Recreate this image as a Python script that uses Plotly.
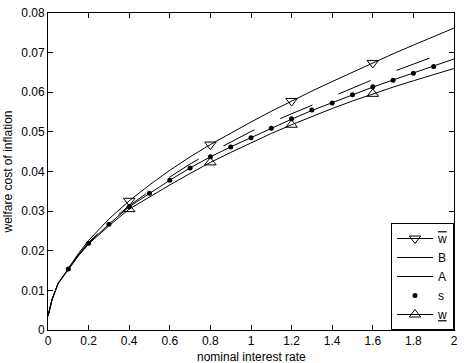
import plotly.graph_objects as go

# nominal interest rate grid for the curves
x_curve = [0, 0.02, 0.05, 0.1, 0.15, 0.2, 0.3, 0.4, 0.5, 0.6, 0.7, 0.8, 0.9, 1.0,
           1.1, 1.2, 1.3, 1.4, 1.5, 1.6, 1.7, 1.8, 1.9, 2.0]

w_upper = [0.0035, 0.0077, 0.0118, 0.0157, 0.0193, 0.0226, 0.0280, 0.0326, 0.0366,
           0.0403, 0.0437, 0.0468, 0.0497, 0.0525, 0.0552, 0.0578, 0.0603, 0.0627,
           0.0651, 0.0674, 0.0697, 0.0719, 0.0741, 0.0762]
B_vals = [0.0035, 0.0077, 0.0118, 0.0155, 0.0190, 0.0221, 0.0270, 0.0314, 0.0350,
          0.0386, 0.0419, 0.0448, 0.0474, 0.0501, 0.0524, 0.0546, 0.0568, 0.0590,
          0.0611, 0.0632, 0.0652, 0.0672, 0.0690, 0.0708]
A_vals = [0.0035, 0.0077, 0.0118, 0.0154, 0.0189, 0.0219, 0.0267, 0.0311, 0.0345,
          0.0378, 0.0409, 0.0437, 0.0462, 0.0486, 0.0509, 0.0532, 0.0554, 0.0574,
          0.0594, 0.0613, 0.0631, 0.0649, 0.0666, 0.0684]
w_lower = [0.0035, 0.0077, 0.0117, 0.0153, 0.0187, 0.0217, 0.0263, 0.0305, 0.0336,
           0.0366, 0.0395, 0.0423, 0.0448, 0.0473, 0.0496, 0.0518, 0.0539, 0.0559,
           0.0578, 0.0596, 0.0613, 0.0629, 0.0645, 0.0660]

# marker positions
x_tri = [0.4, 0.8, 1.2, 1.6]
w_upper_tri = [0.0326, 0.0468, 0.0578, 0.0674]
w_lower_tri = [0.0305, 0.0423, 0.0518, 0.0596]

x_s = [0.1, 0.2, 0.3, 0.4, 0.5, 0.6, 0.7, 0.8, 0.9, 1.0, 1.1, 1.2, 1.3, 1.4, 1.5,
       1.6, 1.7, 1.8, 1.9]
s_vals = [0.0154, 0.0219, 0.0267, 0.0311, 0.0345, 0.0378, 0.0409, 0.0437, 0.0462,
          0.0485, 0.0509, 0.0533, 0.0555, 0.0573, 0.0594, 0.0614, 0.0630, 0.0648,
          0.0665]

x_ticks = [0, 0.2, 0.4, 0.6, 0.8, 1, 1.2, 1.4, 1.6, 1.8, 2]
x_ticklabels = ["0", "0.2", "0.4", "0.6", "0.8", "1", "1.2", "1.4", "1.6", "1.8", "2"]
y_ticks = [0, 0.01, 0.02, 0.03, 0.04, 0.05, 0.06, 0.07, 0.08]
y_ticklabels = ["0", "0.01", "0.02", "0.03", "0.04", "0.05", "0.06", "0.07", "0.08"]

names = ['<span style="text-decoration:overline">w</span>', "B", "A", "s", "<u>w</u>"]
x_title = "nominal interest rate"
y_title = "welfare cost of inflation"

FONT = "Liberation Sans, Arial, sans-serif"
LW = 1
tri_marker_down = dict(symbol="triangle-down-open", size=10, color="black", line=dict(width=1, color="black"))
tri_marker_up = dict(symbol="triangle-up-open", size=10, color="black", line=dict(width=1, color="black"))
dot_marker = dict(symbol="circle", size=5, color="black")

fig = go.Figure()

# curves
fig.add_trace(go.Scatter(x=x_curve, y=w_upper, mode="lines", line=dict(color="black", width=LW), showlegend=False))
fig.add_trace(go.Scatter(x=x_curve, y=B_vals, mode="lines", line=dict(color="black", width=LW, dash="35px,28px"), showlegend=False))
fig.add_trace(go.Scatter(x=x_curve, y=A_vals, mode="lines", line=dict(color="black", width=LW), showlegend=False))
fig.add_trace(go.Scatter(x=x_curve, y=w_lower, mode="lines", line=dict(color="black", width=LW), showlegend=False))

# markers
fig.add_trace(go.Scatter(x=x_tri, y=w_upper_tri, mode="markers", marker=tri_marker_down, showlegend=False))
fig.add_trace(go.Scatter(x=x_tri, y=w_lower_tri, mode="markers", marker=tri_marker_up, showlegend=False))
fig.add_trace(go.Scatter(x=x_s, y=s_vals, mode="markers", marker=dot_marker, showlegend=False))

# legend entries
fig.add_trace(go.Scatter(x=[None], y=[None], mode="lines+markers", name=names[0],
                         line=dict(color="black", width=LW), marker=tri_marker_down))
fig.add_trace(go.Scatter(x=[None], y=[None], mode="lines", name=names[1],
                         line=dict(color="black", width=LW)))
fig.add_trace(go.Scatter(x=[None], y=[None], mode="lines", name=names[2],
                         line=dict(color="black", width=LW)))
fig.add_trace(go.Scatter(x=[None], y=[None], mode="markers", name=names[3], marker=dot_marker))
fig.add_trace(go.Scatter(x=[None], y=[None], mode="lines+markers", name=names[4],
                         line=dict(color="black", width=LW), marker=tri_marker_up))

axis_common = dict(showline=True, linecolor="black", linewidth=1, mirror="ticks",
                   ticks="inside", ticklen=5, tickcolor="black", showgrid=False,
                   zeroline=False, tickfont=dict(size=12, color="black", family=FONT))

fig.update_layout(
    width=464, height=363,
    margin=dict(l=48, r=6, t=7, b=33),
    paper_bgcolor="white", plot_bgcolor="white",
    font=dict(family=FONT, size=12, color="black"),
    xaxis=dict(range=[0, 2], tickvals=x_ticks, ticktext=x_ticklabels, **axis_common),
    yaxis=dict(range=[0, 0.08], tickvals=y_ticks, ticktext=y_ticklabels,
               title=dict(text=y_title, font=dict(size=12), standoff=6), **axis_common),
    legend=dict(x=1, xanchor="right", y=0.0, yanchor="bottom", bordercolor="black",
                borderwidth=1, bgcolor="white", font=dict(size=12, family=FONT),
                tracegroupgap=0, itemwidth=36),
    annotations=[dict(text=x_title, xref="paper", yref="paper", x=0.5, y=-0.084,
                      xanchor="center", yanchor="middle", showarrow=False,
                      font=dict(size=12, family=FONT, color="black"))],
)

fig.write_html("out.html")
